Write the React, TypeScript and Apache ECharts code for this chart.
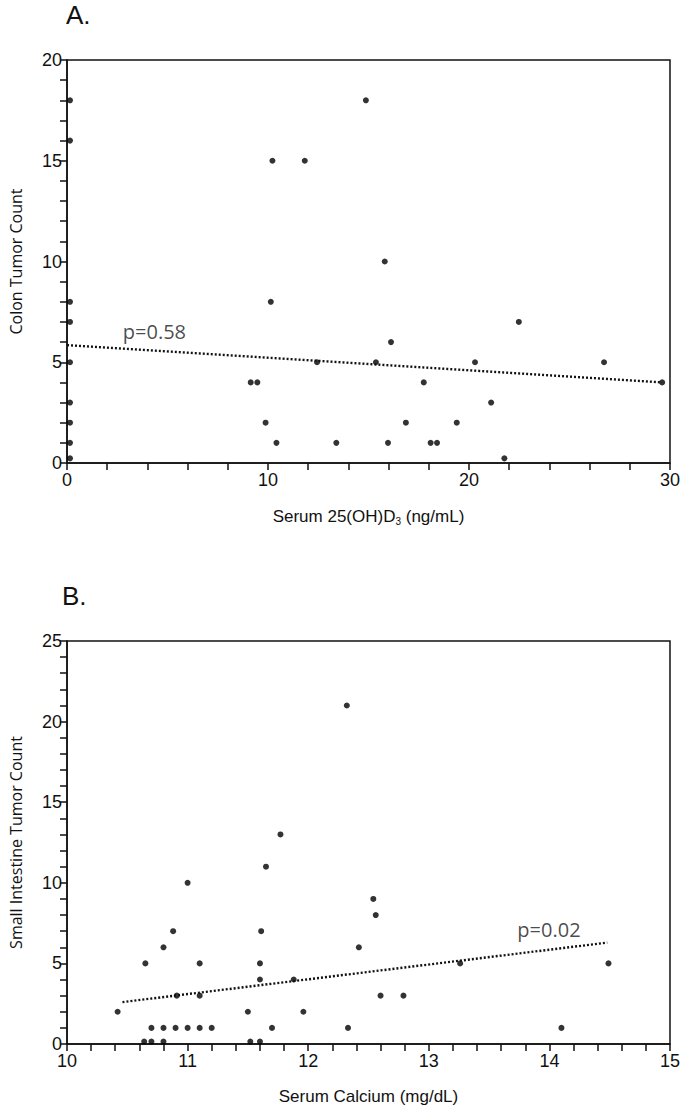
import React, { useEffect, useRef } from "react";
import * as echarts from "echarts";

// Panel A: colon tumor count vs serum 25(OH)D3
const vitD = [0.15, 0.15, 0.15, 0.15, 0.15, 0.15, 0.15, 0.15, 0.15,
  14.87, 10.22, 11.83, 15.81, 10.14, 22.48, 16.12, 12.44, 15.37, 20.3, 26.72,
  9.14, 9.47, 17.75, 29.61, 21.1, 9.88, 16.86, 19.39, 10.42, 13.4, 15.97, 18.09, 18.41, 21.76];
const colonCount = [18, 16, 8, 7, 5, 3, 2, 1, 0.23,
  18, 15, 15, 10, 8, 7, 6, 5, 5, 5, 5,
  4, 4, 4, 4, 3, 2, 2, 2, 1, 1, 1, 1, 1, 0.23];
const trendA = [[0, 5.85], [29.6, 4.0]];
const pLabelA = ["p=0.58"];
const pAnchorA = [2.75, 6.55];

// Panel B: small intestine tumor count vs serum calcium
const calcium = [12.32, 11.77, 11.65, 11.0, 12.54, 12.56, 10.88, 11.61, 10.8, 12.42,
  10.65, 11.1, 11.6, 13.26, 14.49, 11.6, 11.88, 10.91, 11.1, 12.6, 12.79,
  10.42, 11.5, 11.96, 10.7, 10.8, 10.9, 11.0, 11.1, 11.2, 11.7, 12.33, 14.1,
  10.64, 10.7, 10.8, 11.52, 11.6];
const siCount = [21, 13, 11, 10, 9, 8, 7, 7, 6, 6,
  5, 5, 5, 5, 5, 4, 4, 3, 3, 3, 3,
  2, 2, 2, 1, 1, 1, 1, 1, 1, 1, 1, 1,
  0.15, 0.15, 0.15, 0.15, 0.15];
const trendB = [[10.46, 2.6], [14.48, 6.29]];
const pLabelB = ["p=0.02"];
const pAnchorB = [13.73, 7.08];

const xTicksA = [0, 30, 10];
const yTicksA = [0, 20, 5];
const xTicksB = [10, 15, 1];
const yTicksB = [0, 25, 5];

const INK = "#111";
const NARROW = "'Liberation Sans Narrow', 'Liberation Sans', Arial, sans-serif";
const HUMAN = "'Open Sans', 'Noto Sans', sans-serif";

function xAxisCfg(grid: number, ticks: number[], name: any) {
  return {
    gridIndex: grid,
    type: "value",
    min: ticks[0],
    max: ticks[1],
    interval: ticks[2],
    axisLine: { onZero: false, lineStyle: { color: INK, width: 1.5 } },
    axisTick: { show: true, length: 7, lineStyle: { color: INK, width: 1.5 } },
    minorTick: { show: true, splitNumber: 5, length: 7, lineStyle: { color: INK, width: 1.5 } },
    splitLine: { show: false },
    minorSplitLine: { show: false },
    axisLabel: { fontSize: 18, color: INK, fontFamily: NARROW, margin: 8 },
    name,
    nameLocation: "middle",
    nameGap: 44,
    nameTextStyle: {
      fontSize: 17, color: INK, fontFamily: NARROW,
      rich: {
        sub: { fontSize: 10, color: INK, fontFamily: NARROW, verticalAlign: "bottom", padding: [9, 0, 0, 0] },
      },
    },
  };
}

function yAxisCfg(grid: number, ticks: number[], name: string) {
  return {
    gridIndex: grid,
    type: "value",
    min: ticks[0],
    max: ticks[1],
    interval: ticks[2],
    axisLine: { onZero: false, lineStyle: { color: INK, width: 1.5 } },
    axisTick: { show: true, length: 7, lineStyle: { color: INK, width: 1.5 } },
    minorTick: { show: true, splitNumber: 5, length: 7, lineStyle: { color: INK, width: 1.5 } },
    splitLine: { show: false },
    minorSplitLine: { show: false },
    axisLabel: { fontSize: 18, color: INK, fontFamily: NARROW, margin: 5 },
    name,
    nameLocation: "middle",
    nameGap: 43,
    nameTextStyle: { fontSize: 16, color: INK, fontFamily: HUMAN },
  };
}

export default function App() {
  const ref = useRef<HTMLDivElement>(null);
  useEffect(() => {
    if (!ref.current) return;
    const chart = echarts.init(ref.current, null, { renderer: "svg" });
    const dots = { symbol: "circle", symbolSize: 6, itemStyle: { color: "#000" } };
    const trendStyle = { color: INK, width: 2.4, type: [2, 2] as any };
    const pLabel = (text: string) => ({
      show: true,
      formatter: text,
      position: "right",
      distance: 0,
      fontSize: 20,
      color: "#1a1a1a",
      fontFamily: HUMAN,
    });
    chart.setOption({
      animation: false,
      backgroundColor: "#fff",
      grid: [
        { left: 66, top: 60, width: 604, height: 403, show: true, borderColor: INK, borderWidth: 1.5 },
        { left: 66, top: 641, width: 604, height: 403, show: true, borderColor: INK, borderWidth: 1.5 },
      ],
      xAxis: [
        xAxisCfg(0, xTicksA, "Serum 25(OH)D{sub|3} (ng/mL)"),
        xAxisCfg(1, xTicksB, "Serum Calcium (mg/dL)"),
      ],
      yAxis: [
        yAxisCfg(0, yTicksA, "Colon Tumor Count"),
        yAxisCfg(1, yTicksB, "Small Intestine Tumor Count"),
      ],
      graphic: [
        { type: "text", left: 66, top: 2, style: { text: "A.", fontSize: 26, fill: INK, fontFamily: NARROW } },
        { type: "text", left: 62, top: 583, style: { text: "B.", fontSize: 26, fill: INK, fontFamily: NARROW } },
      ],
      series: [
        { type: "scatter", xAxisIndex: 0, yAxisIndex: 0, data: vitD.map((x, i) => [x, colonCount[i]]), ...dots },
        { type: "line", xAxisIndex: 0, yAxisIndex: 0, data: trendA, symbol: "none", lineStyle: trendStyle },
        {
          type: "scatter", xAxisIndex: 0, yAxisIndex: 0, data: [pAnchorA], symbolSize: 1,
          itemStyle: { color: "rgba(0,0,0,0)" }, label: pLabel(pLabelA[0]), silent: true,
        },
        { type: "scatter", xAxisIndex: 1, yAxisIndex: 1, data: calcium.map((x, i) => [x, siCount[i]]), ...dots },
        { type: "line", xAxisIndex: 1, yAxisIndex: 1, data: trendB, symbol: "none", lineStyle: trendStyle },
        {
          type: "scatter", xAxisIndex: 1, yAxisIndex: 1, data: [pAnchorB], symbolSize: 1,
          itemStyle: { color: "rgba(0,0,0,0)" }, label: pLabel(pLabelB[0]), silent: true,
        },
      ],
    });
    return () => chart.dispose();
  }, []);
  return (
    <div
      ref={ref}
      style={{ position: "absolute", left: 0, top: 0, width: 683, height: 1115, background: "#fff" }}
    />
  );
}
